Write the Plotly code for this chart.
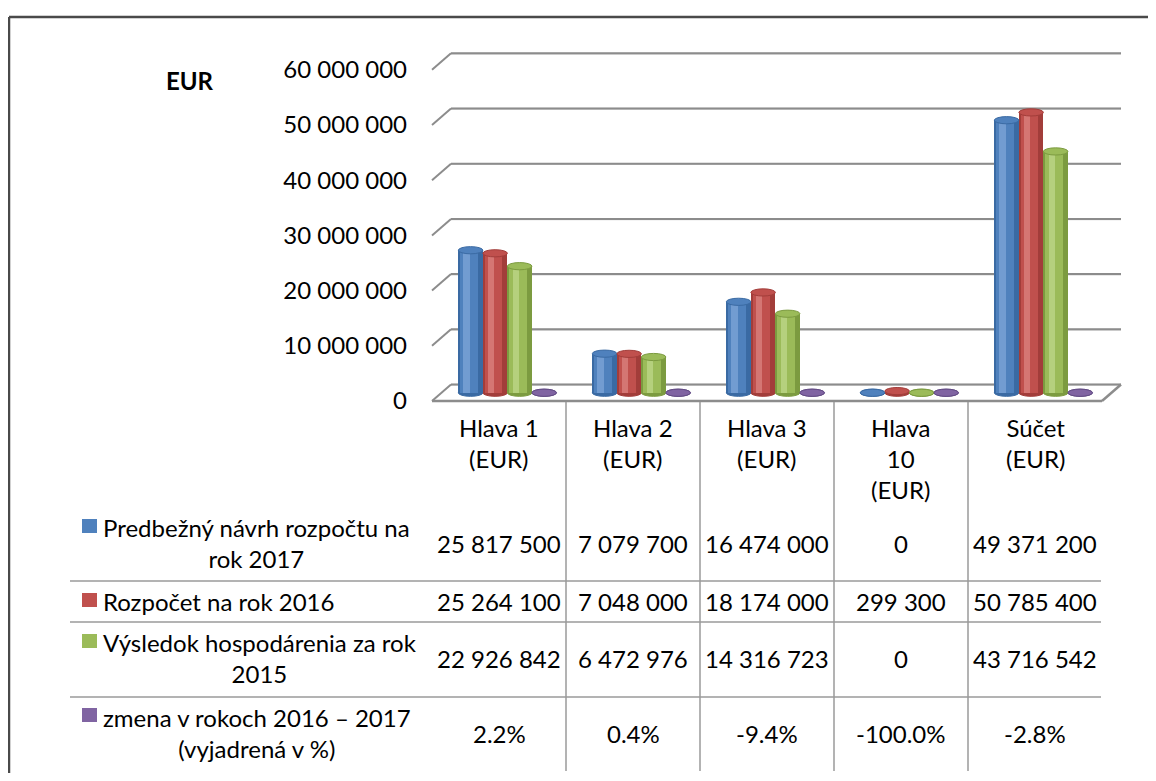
import plotly.graph_objects as go

# ---------------- data ----------------
categories = ["Hlava 1<br>(EUR)", "Hlava 2<br>(EUR)", "Hlava 3<br>(EUR)",
              "Hlava<br>10<br>(EUR)", "Súčet<br>(EUR)"]
series_names = ["Predbežný návrh rozpočtu na<br>rok 2017",
                "Rozpočet na rok 2016",
                "Výsledok hospodárenia za rok<br>2015",
                "zmena v rokoch 2016 – 2017<br>(vyjadrená v %)"]
predbezny_2017 = [25817500, 7079700, 16474000, 0, 49371200]
rozpocet_2016 = [25264100, 7048000, 18174000, 299300, 50785400]
vysledok_2015 = [22926842, 6472976, 14316723, 0, 43716542]
zmena_pct = [2.2, 0.4, -9.4, -100.0, -2.8]
y_ticks = [0, 10000000, 20000000, 30000000, 40000000, 50000000, 60000000]
y_axis_title = "EUR"

series_values = [predbezny_2017, rozpocet_2016, vysledok_2015, zmena_pct]
series_text = [[f"{v:,}".replace(",", " ") for v in predbezny_2017],
               [f"{v:,}".replace(",", " ") for v in rozpocet_2016],
               [f"{v:,}".replace(",", " ") for v in vysledok_2015],
               [f"{p:.1f}%" for p in zmena_pct]]

# ---------------- style ----------------
FONT = "Lato"
FS = 24
palette = [("#3A6AA3", "#4F81BD", "#7BA3D6"),
           ("#A23D3A", "#C0504D", "#D9807D"),
           ("#7C9B40", "#9BBB59", "#BCD687"),
           ("#634C85", "#8064A2", "#A48DC2")]

SH = 8                                   # page body margin offset
W_FIG, H_FIG = 1156 - SH, 781 - 2 * SH
# plot area in screen pixels
SL, SR, ST, SB = 414, 1135, 40, 406
L, R, T, B = SL - SH, SR - SH, ST - SH, SB - SH
PXM = 5.52 / 1e6                         # pixels per EUR
Y0_SCREEN = 401                          # screen pixel of value 0 (front)
Y_TOP = (Y0_SCREEN - ST) / PXM
Y_BOT = (Y0_SCREEN - SB) / PXM
X_LO, X_HI = -0.5 - (432 - SL) / 134, 4.5 + (SR - 1102) / 134
DX = 19 / 134                            # depth offset (category units)
DY = 16.5 / PXM                          # depth offset (EUR units)
BASE = DY / 2
EH = 3.6 / PXM                           # ellipse half height
BW = 0.183
OFFS = [-0.212, -0.029, 0.154, 0.337]


def pxx(xs):
    """screen x pixel -> paper"""
    return (xs - SL) / (SR - SL)


def pyy(ys):
    """screen y pixel -> paper"""
    return (SB - ys) / (SB - ST)


fig = go.Figure()
shapes = []
annotations = []

# back-wall gridlines with perspective diagonals
for v in y_ticks:
    shapes.append(dict(type="line", xref="x", yref="y", x0=-0.5 + DX, x1=4.5 + DX,
                       y0=v + DY - 0.35 / PXM, y1=v + DY - 0.35 / PXM,
                       line=dict(color="#D4D4D4", width=2), layer="below"))
    shapes.append(dict(type="line", xref="x", yref="y", x0=-0.5 + DX, x1=4.5 + DX,
                       y0=v + DY, y1=v + DY, line=dict(color="#8C8C8C", width=2),
                       layer="below"))
    shapes.append(dict(type="line", xref="x", yref="y", x0=-0.5, x1=-0.5 + DX,
                       y0=v, y1=v + DY, line=dict(color="#8C8C8C", width=2),
                       layer="below"))
# floor front edge and right edge
shapes.append(dict(type="line", xref="x", yref="y", x0=-0.5, x1=4.5, y0=0, y1=0,
                   line=dict(color="#8C8C8C", width=2.5), layer="below"))
shapes.append(dict(type="line", xref="x", yref="y", x0=4.5, x1=4.5 + DX, y0=0, y1=DY,
                   line=dict(color="#8C8C8C", width=2.5), layer="below"))

# cylinders
for j, vals in enumerate(series_values):
    dark, mid, light = palette[j]
    xs = [i + OFFS[j] for i in range(len(vals))]
    fig.add_trace(go.Bar(x=xs, y=vals, base=BASE, width=BW,
                         marker=dict(color=dark, line=dict(width=0)),
                         hoverinfo="skip"))
    fig.add_trace(go.Bar(x=[x - BW * 0.06 for x in xs], y=vals, base=BASE, width=BW * 0.72,
                         marker=dict(color=mid, line=dict(width=0)),
                         hoverinfo="skip"))
    fig.add_trace(go.Bar(x=[x - BW * 0.16 for x in xs], y=vals, base=BASE, width=BW * 0.26,
                         marker=dict(color=light, line=dict(width=0)), opacity=0.8,
                         hoverinfo="skip"))
    for x, v in zip(xs, vals):
        top = BASE + max(v, 0)
        shapes.append(dict(type="circle", xref="x", yref="y",
                           x0=x - BW / 2, x1=x + BW / 2, y0=BASE - EH, y1=BASE + EH,
                           fillcolor=dark, line=dict(color=dark, width=1), layer="below"))
        shapes.append(dict(type="circle", xref="x", yref="y",
                           x0=x - BW / 2, x1=x + BW / 2, y0=top - EH, y1=top + EH,
                           fillcolor=mid, line=dict(color=dark, width=1), layer="above"))

# axis title
annotations.append(dict(text=f"<b>{y_axis_title}</b>", xref="paper", yref="paper",
                        x=pxx(190), y=pyy(80), xanchor="center", yanchor="middle",
                        showarrow=False,
                        font=dict(family=FONT, size=FS, color="black")))

# data table: column headers
for i, c in enumerate(categories):
    annotations.append(dict(text=c, xref="x", yref="paper", x=i, y=pyy(411),
                            xanchor="center", yanchor="top", align="center",
                            showarrow=False,
                            font=dict(family=FONT, size=FS, color="black")))

row_centers = [543, 601, 658, 733]
square_centers = [526, 600, 641, 715]
for j, name in enumerate(series_names):
    annotations.append(dict(text=name, xref="paper", yref="paper",
                            x=pxx(101), y=pyy(row_centers[j]),
                            xanchor="left", yanchor="middle", align="center",
                            showarrow=False,
                            font=dict(family=FONT, size=FS, color="black")))
    shapes.append(dict(type="rect", xref="paper", yref="paper",
                       x0=pxx(82), x1=pxx(97), y0=pyy(square_centers[j] - 7),
                       y1=pyy(square_centers[j] + 7),
                       fillcolor=palette[j][1], line=dict(width=0)))
    for i, t in enumerate(series_text[j]):
        annotations.append(dict(text=t, xref="x", yref="paper", x=i,
                                y=pyy(row_centers[j]), xanchor="center",
                                yanchor="middle", showarrow=False,
                                font=dict(family=FONT, size=FS, color="black")))

# table grid lines
for yp in [581, 622, 697]:
    shapes.append(dict(type="line", xref="paper", yref="paper",
                       x0=pxx(70), x1=pxx(1101), y0=pyy(yp), y1=pyy(yp),
                       line=dict(color="#9A9A9A", width=1.5)))
for i in range(len(categories) - 1):
    shapes.append(dict(type="line", xref="x", yref="paper", x0=i + 0.5, x1=i + 0.5,
                       y0=pyy(402), y1=pyy(771),
                       line=dict(color="#9A9A9A", width=1.5)))

# outer frame (right and bottom edges are outside the picture)
shapes.append(dict(type="line", xref="paper", yref="paper",
                   x0=pxx(9), x1=pxx(1170), y0=pyy(17), y1=pyy(17),
                   line=dict(color="#4A4A4A", width=2.5)))
shapes.append(dict(type="line", xref="paper", yref="paper",
                   x0=pxx(9), x1=pxx(9), y0=pyy(17), y1=pyy(800),
                   line=dict(color="#4A4A4A", width=2.5)))

fig.update_layout(
    width=W_FIG, height=H_FIG,
    margin=dict(l=L, r=W_FIG - R, t=T, b=H_FIG - B, pad=0),
    paper_bgcolor="white", plot_bgcolor="white",
    barmode="overlay", bargap=0, showlegend=False,
    separators=". ",
    font=dict(family=FONT, size=FS, color="black"),
    xaxis=dict(range=[X_LO, X_HI], showgrid=False, zeroline=False,
               showticklabels=False, showline=False, fixedrange=True),
    yaxis=dict(range=[Y_BOT, Y_TOP], showgrid=False, zeroline=False,
               showline=False, tickvals=y_ticks, tickformat=",d",
               ticks="", ticklabelstandoff=6, fixedrange=True,
               tickfont=dict(family=FONT, size=FS, color="black")),
    shapes=shapes, annotations=annotations,
)

fig.write_html("out.html", config={"displayModeBar": False})
